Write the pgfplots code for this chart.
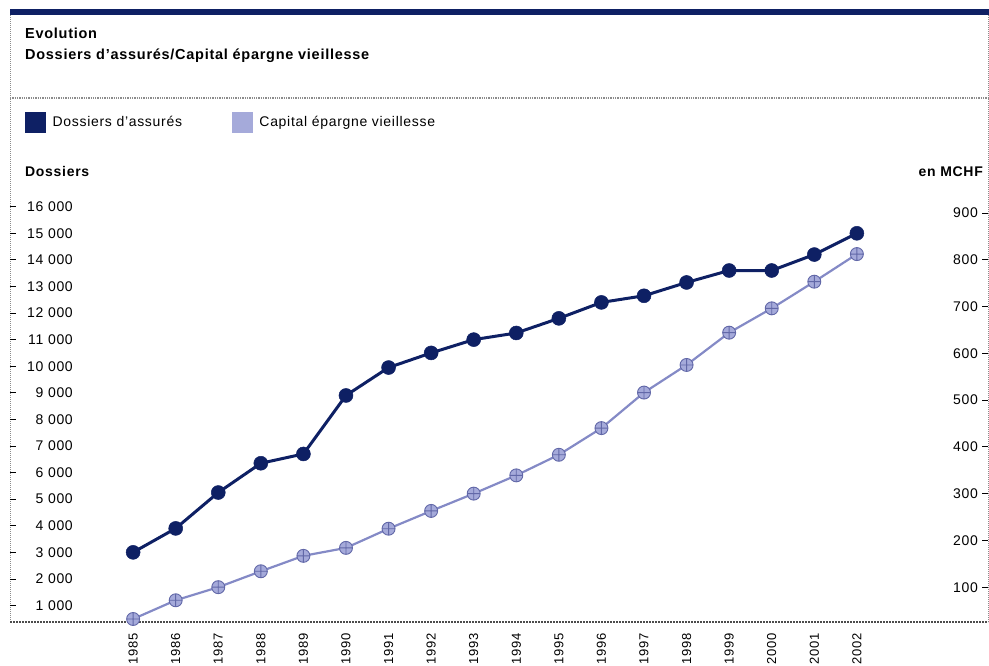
\documentclass[border=0pt]{standalone}
\usepackage{fontspec}
\setmainfont{Liberation Sans}[LetterSpace=5]
\usepackage{pgfplots}
\usepackage{pgfplotstable}
\pgfplotsset{compat=1.18}

\definecolor{navy}{RGB}{14,32,100}
\definecolor{lav}{RGB}{132,138,198}
\definecolor{lavfill}{RGB}{165,170,218}
\definecolor{lavdark}{RGB}{98,104,168}
\definecolor{framegray}{RGB}{140,140,140}

% year, number of files (left axis), capital in MCHF (right axis)
\pgfplotstableread{
year dossiers capital
1985 3000  32
1986 3900  72
1987 5250 100
1988 6350 134
1989 6700 167
1990 8900 184
1991 9950 225
1992 10500 263
1993 11000 300
1994 11250 339
1995 11800 383
1996 12400 440
1997 12650 516
1998 13150 575
1999 13600 644
2000 13600 696
2001 14200 753
2002 15000 812
}\evol

\pgfplotsset{
  evolbase/.style={
    at={(10pt,44pt)}, anchor=south west,
    scale only axis, width=978pt, height=427pt,
    xmin=1982.108, xmax=2005.08,
    axis line style={draw=none},
    tick align=inside, major tick length=6pt,
    ytick style={black, line width=0.8pt},
    xtick style={draw=none},
    scaled y ticks=false,
    /pgf/number format/assume math mode=true,
    /pgf/number format/1000 sep={\ },
    tick label style={font=\fontsize{14}{16}\selectfont, inner sep=0pt},
    clip=false,
  },
}

\begin{document}
\begin{tikzpicture}
\useasboundingbox (0,0) rectangle (989pt,666pt);

% frame of the panel
\draw[framegray, densely dotted, line width=1pt] (10pt,44pt) -- (10pt,651pt);
\draw[framegray, densely dotted, line width=1pt] (988pt,44pt) -- (988pt,651pt);
\draw[framegray, densely dotted, line width=1.3pt] (10pt,568pt) -- (988pt,568pt);
\fill[navy] (10pt,651pt) rectangle (989pt,657pt);
\draw[black!70, dash pattern=on 2pt off 1pt, line width=1.6pt] (10pt,44pt) -- (988pt,44pt);

\begin{axis}[evolbase,
  ymin=380, ymax=16440,
  ytick={1000,2000,...,16000},
  ytick pos=left,
  yticklabel style={anchor=east, xshift=63pt},
  xtick={1985,1986,...,2002},
  xticklabel style={rotate=90, anchor=east, font=\fontsize{13}{15}\selectfont},
  xticklabel shift=11pt,
  xticklabel={\pgfmathprintnumber[1000 sep={}]{\tick}},
  ylabel={\bfseries Dossiers},
  ylabel style={rotate=-90, at={(axis description cs:0.0153,1.0539)}, anchor=west,
    inner sep=0pt, font=\fontsize{14}{16}\selectfont},
  title={Evolution\\Dossiers d'assurés/Capital épargne vieillesse},
  title style={at={(axis description cs:0.0153,1.336)}, anchor=west, align=left,
    inner sep=0pt, font=\bfseries\fontsize{14.5}{21}\selectfont},
]
\addplot[navy, line width=3pt, mark=*, mark size=7pt,
  mark options={solid, fill=navy, draw=navy, line width=0.5pt}]
  table[x=year, y=dossiers] {\evol};
\end{axis}

\begin{axis}[evolbase,
  ymin=25.6, ymax=938.3,
  ytick={100,200,...,900},
  ytick pos=right, yticklabel pos=right,
  yticklabel style={anchor=east, xshift=-10pt},
  xtick=\empty,
  ylabel={\bfseries en MCHF},
  ylabel style={rotate=-90, at={(axis description cs:0.9949,1.0539)}, anchor=east,
    inner sep=0pt, font=\fontsize{14}{16}\selectfont},
  legend columns=2,
  legend style={at={(axis description cs:0.01534,1.171)}, anchor=west,
    draw=none, fill=none, inner sep=0pt, nodes={inner sep=0pt},
    font=\fontsize{14}{16}\selectfont,
    /tikz/every odd column/.append style={column sep=7pt},
    /tikz/every even column/.append style={column sep=50pt}},
]
\addlegendimage{legend image code/.code={\fill[navy] (0pt,-10pt) rectangle (20pt,10pt);}}
\addlegendentry{Dossiers d'assurés}
\addlegendimage{legend image code/.code={\fill[lavfill] (0pt,-10pt) rectangle (20pt,10pt);}}
\addlegendentry{Capital épargne vieillesse}
\addplot[forget plot, lav, line width=2.2pt, mark=oplus*, mark size=6.5pt,
  mark options={solid, fill=lavfill, draw=lavdark, line width=0.9pt}]
  table[x=year, y=capital] {\evol};
\end{axis}
\end{tikzpicture}
\end{document}
